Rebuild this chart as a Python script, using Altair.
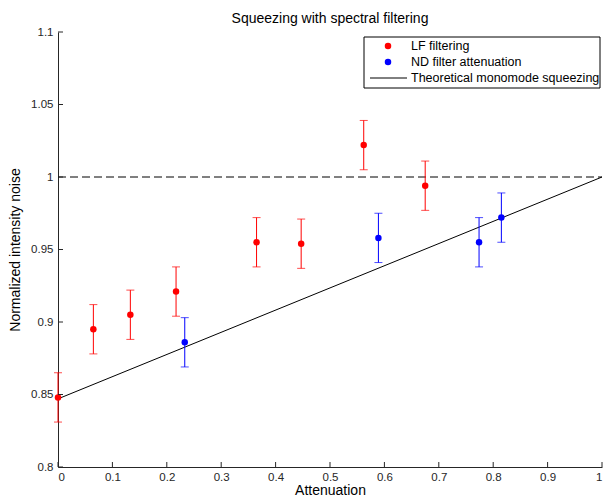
import altair as alt
import pandas as pd

# ---------------- data ----------------
lf_x = [0.0, 0.065, 0.133, 0.217, 0.365, 0.447, 0.562, 0.675]
lf_y = [0.848, 0.895, 0.905, 0.921, 0.955, 0.954, 1.022, 0.994]
lf_err = [0.017, 0.017, 0.017, 0.017, 0.017, 0.017, 0.017, 0.017]

nd_x = [0.233, 0.589, 0.774, 0.815]
nd_y = [0.886, 0.958, 0.955, 0.972]
nd_err = [0.017, 0.017, 0.017, 0.017]

theory_x = [0.0, 1.0]
theory_y = [0.847, 1.0]

ref_x = [0.0, 1.0]
ref_y = [1.0, 1.0]

x_ticks = [0, 0.1, 0.2, 0.3, 0.4, 0.5, 0.6, 0.7, 0.8, 0.9, 1.0]
y_ticks = [0.8, 0.85, 0.9, 0.95, 1.0, 1.05, 1.1]

series_names = ["LF filtering", "ND filter attenuation"]
series_colors = ["#ff0000", "#0000ff"]
theory_label = "Theoretical monomode squeezing"

# ---------------- tables ----------------
rows = []
for x, y, e in zip(lf_x, lf_y, lf_err):
    rows.append({"series": series_names[0], "x": x, "y": y, "lo": y - e, "hi": y + e})
for x, y, e in zip(nd_x, nd_y, nd_err):
    rows.append({"series": series_names[1], "x": x, "y": y, "lo": y - e, "hi": y + e})
pts = pd.DataFrame(rows)
theory = pd.DataFrame({"x": theory_x, "y": theory_y})
ref = pd.DataFrame({"x": ref_x, "y": ref_y})
xt = pd.DataFrame({"x": x_ticks})
yt = pd.DataFrame({"y": y_ticks})

W, H = 544, 435
FONT = "Liberation Sans"
AX = "#262626"

xscale = alt.Scale(domain=[0, 1], nice=False, zero=False)
yscale = alt.Scale(domain=[0.8, 1.1], nice=False, zero=False)
xaxis = alt.Axis(values=x_ticks, format="~g", tickSize=0, labelPadding=4,
                 title="Attenuation", titlePadding=1, grid=False,
                 labelFontSize=11.5, titleFontSize=14, titleFontWeight="normal")
yaxis = alt.Axis(values=y_ticks, format="~g", tickSize=0, labelPadding=5,
                 title="Normalized intensity noise", titlePadding=8, grid=False,
                 labelFontSize=11.5, titleFontSize=14, titleFontWeight="normal")


def X(field):
    return alt.X(field, type="quantitative", scale=xscale, axis=xaxis)


def Y(field):
    return alt.Y(field, type="quantitative", scale=yscale, axis=yaxis)


color = alt.Color("series:N", scale=alt.Scale(domain=series_names, range=series_colors), legend=None)

dashed = alt.Chart(ref).mark_line(color="black", strokeWidth=1, strokeDash=[8, 4]).encode(x=X("x"), y=Y("y"))
line = alt.Chart(theory).mark_line(color="black", strokeWidth=1).encode(x=X("x"), y=Y("y"))
bars = alt.Chart(pts).mark_rule(strokeWidth=1).encode(x=X("x"), y=Y("lo"), y2="hi", color=color)
cap_lo = alt.Chart(pts).mark_tick(orient="horizontal", size=8, thickness=1).encode(x=X("x"), y=Y("lo"), color=color)
cap_hi = alt.Chart(pts).mark_tick(orient="horizontal", size=8, thickness=1).encode(x=X("x"), y=Y("hi"), color=color)
dots = alt.Chart(pts).mark_circle(size=42, opacity=1).encode(x=X("x"), y=Y("y"), color=color)

xticks = alt.Chart(xt).mark_rule(color=AX, strokeWidth=1).encode(x=X("x"), y=alt.value(H), y2=alt.value(H - 5))
yticks = alt.Chart(yt).mark_rule(color=AX, strokeWidth=1).encode(y=Y("y"), x=alt.value(0), x2=alt.value(5))

# ---------------- legend ----------------
one = pd.DataFrame({"a": [0]})
lx0, lx1, ly0, ly1 = 306, 542, 5, 56
box = alt.Chart(one).mark_rect(fill="white", stroke="black", strokeWidth=1).encode(
    x=alt.value(lx0), x2=alt.value(lx1), y=alt.value(ly0), y2=alt.value(ly1))
leg = [box]
row_y = [14, 30, 46]
for i, (name, col) in enumerate(zip(series_names, series_colors)):
    leg.append(alt.Chart(one).mark_circle(size=42, opacity=1, color=col).encode(
        x=alt.value(330), y=alt.value(row_y[i])))
    leg.append(alt.Chart(one).mark_text(text=name, align="left", baseline="middle",
                                        font=FONT, fontSize=12.5, color="black").encode(
        x=alt.value(353), y=alt.value(row_y[i])))
leg.append(alt.Chart(one).mark_rule(color="black", strokeWidth=1).encode(
    x=alt.value(312), x2=alt.value(349), y=alt.value(row_y[2])))
leg.append(alt.Chart(one).mark_text(text=theory_label, align="left", baseline="middle",
                                    font=FONT, fontSize=12.5, color="black").encode(
    x=alt.value(353), y=alt.value(row_y[2])))

chart = alt.layer(dashed, line, bars, cap_lo, cap_hi, dots, xticks, yticks, *leg).properties(
    width=W, height=H,
    title=alt.TitleParams("Squeezing with spectral filtering", font=FONT, fontSize=14,
                          fontWeight="normal", color="black", frame="group", anchor="middle", offset=0),
    autosize=alt.AutoSizeParams(type="none"),
    padding={"left": 50, "top": 24, "right": 4, "bottom": 32},
).configure_view(stroke=None).configure_axis(
    domainColor=AX, labelColor=AX, titleColor="black", labelFont=FONT, titleFont=FONT,
)

chart.save("out.html", embed_options={"renderer": "svg", "actions": False})
